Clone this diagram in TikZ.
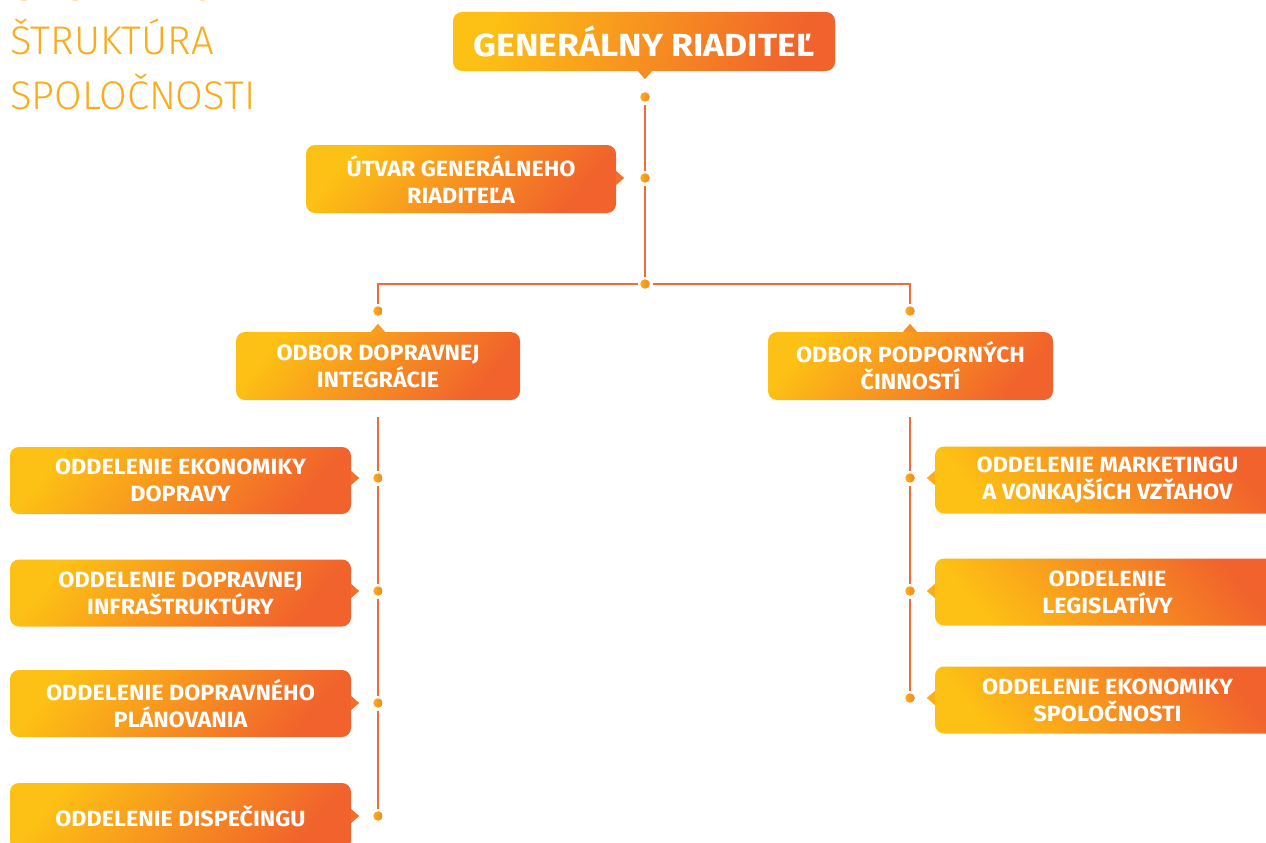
\documentclass[tikz,border=0pt]{standalone}
\usepackage{fontspec}
\setmainfont{Fira Sans}
\newfontfamily\lightfont{Fira Sans Light}
\newfontfamily\boxfont{Fira Sans}[FakeStretch=1.06]
\newfontfamily\bigboxfont{Fira Sans}[FakeStretch=1.11]
\definecolor{yel}{HTML}{FDC014}
\definecolor{ora}{HTML}{F1622C}
\definecolor{linec}{HTML}{F26A35}
\definecolor{titlec}{HTML}{F9AC1C}
\definecolor{dotc}{HTML}{F7941E}
\definecolor{pmid}{HTML}{F68B25}
\definecolor{pright}{HTML}{F2702B}
\definecolor{pleft}{HTML}{FBAE18}
\definecolor{ptopl}{HTML}{F89C22}
\definecolor{ptopr}{HTML}{F59127}
\tikzset{
  boxbase/.style={rounded corners=9pt, text=white, align=center, inner sep=0pt,
    font=\boxfont\bfseries\fontsize{22}{27}\selectfont},
  boxL/.style={boxbase, top color=yel, bottom color=ora, shading angle=50},
  boxR/.style={boxbase, top color=ora, bottom color=yel, shading angle=-50},
  dot/.style={circle, inner sep=0pt, minimum size=9.5pt, left color=yel!60!dotc, right color=dotc!70!ora},
  conn/.style={draw=linec, line width=1.9pt, shorten <=7.5pt, shorten >=7.5pt},
  conntop/.style={draw=linec, line width=1.9pt, shorten >=7.5pt},
  titletext/.style={text=titlec, anchor=base west, inner sep=0pt, font=\lightfont\fontsize{40}{40}\selectfont},
}
\newcommand{\pointer}[3]{\fill[#1] ([shift={(#3+90:7pt)}]#2) -- ([shift={(#3:8pt)}]#2) -- ([shift={(#3-90:7pt)}]#2) -- cycle;}
\begin{document}
\begin{tikzpicture}[x=1pt,y=-1pt]
\useasboundingbox (0,0) rectangle (1266,843);
\clip (0,0) rectangle (1266,843);
% title
\node[titletext] (t1) at (10,1) {ORGANIZAČNÁ};
\node[titletext] (t2) at (10,55) {ŠTRUKTÚRA};
\node[titletext] (t3) at (10,109) {SPOLOČNOSTI};
% boxes
\node[boxL, minimum width=382pt, minimum height=59pt, font=\bigboxfont\bfseries\fontsize{32}{32}\selectfont, top color=yel, bottom color=ora, shading angle=70] (gr) at (644,41.5) {GENERÁLNY RIADITEĽ};
\node[boxL, minimum width=310pt, minimum height=68pt] (ugr) at (461,179) {ÚTVAR GENERÁLNEHO\\RIADITEĽA};
\node[boxL, minimum width=284pt, minimum height=68pt] (odi) at (378,366) {ODBOR DOPRAVNEJ\\INTEGRÁCIE};
\node[boxL, minimum width=285pt, minimum height=68pt] (opc) at (910.5,366) {ODBOR PODPORNÝCH\\ČINNOSTÍ};
\node[boxL, minimum width=341pt, minimum height=67pt] (l1b) at (180.5,480.5) {ODDELENIE EKONOMIKY\\DOPRAVY};
\node[boxL, minimum width=341pt, minimum height=67pt] (l2b) at (180.5,593) {ODDELENIE DOPRAVNEJ\\INFRAŠTRUKTÚRY};
\node[boxL, minimum width=341pt, minimum height=67pt] (l3b) at (180.5,703.5) {ODDELENIE DOPRAVNÉHO\\PLÁNOVANIA};
\node[boxL, minimum width=341pt, minimum height=67pt] (l4b) at (180.5,816.5) {ODDELENIE DISPEČINGU};
\node[boxR, minimum width=345pt, minimum height=67pt] (r1b) at (1107.5,480) {ODDELENIE MARKETINGU\\A VONKAJŠÍCH VZŤAHOV};
\node[boxR, minimum width=345pt, minimum height=67pt] (r2b) at (1107.5,592) {ODDELENIE\\LEGISLATÍVY};
\node[boxR, minimum width=345pt, minimum height=67pt] (r3b) at (1107.5,700) {ODDELENIE EKONOMIKY\\SPOLOČNOSTI};
% dots
\node[dot] (d0) at (645,97) {};
\node[dot] (d1) at (645,178) {};
\node[dot] (d2) at (645,284) {};
\node[dot] (dl) at (378,311) {};
\node[dot] (dr) at (910,311) {};
\node[dot] (l1) at (378,478) {};
\node[dot] (l2) at (378,591) {};
\node[dot] (l3) at (378,703) {};
\node[dot] (l4) at (378,816) {};
\node[dot] (r1) at (910,478) {};
\node[dot] (r2) at (910,591) {};
\node[dot] (r3) at (910,698) {};
\coordinate (lt) at (378,417);
\coordinate (rt) at (910,417);
% pointers
\path (gr.south -| d0) coordinate (pg);
\pointer{pmid}{pg}{-90}
\path (ugr.east |- d1) coordinate (pu);
\pointer{pright}{pu}{0}
\path (odi.north -| dl) coordinate (po);
\pointer{ptopl}{po}{90}
\path (opc.north -| dr) coordinate (pp);
\pointer{ptopr}{pp}{90}
\path (l1b.east |- l1) coordinate (pl1);
\pointer{pright}{pl1}{0}
\path (l2b.east |- l2) coordinate (pl2);
\pointer{pright}{pl2}{0}
\path (l3b.east |- l3) coordinate (pl3);
\pointer{pright}{pl3}{0}
\path (l4b.east |- l4) coordinate (pl4);
\pointer{pright}{pl4}{0}
\path (r1b.west |- r1) coordinate (pr1);
\pointer{pleft}{pr1}{180}
\path (r2b.west |- r2) coordinate (pr2);
\pointer{pleft}{pr2}{180}
\path (r3b.west |- r3) coordinate (pr3);
\pointer{pleft}{pr3}{180}
% connectors
\draw[conn] (d0.center) -- (d1.center);
\draw[conn] (d1.center) -- (d2.center);
\draw[conn] (d2.center) -| (dl.center);
\draw[conn] (d2.center) -| (dr.center);
\draw[conntop] (lt) -- (l1.center);
\draw[conn] (l1.center) -- (l2.center);
\draw[conn] (l2.center) -- (l3.center);
\draw[conn] (l3.center) -- (l4.center);
\draw[conntop] (rt) -- (r1.center);
\draw[conn] (r1.center) -- (r2.center);
\draw[conn] (r2.center) -- (r3.center);
\end{tikzpicture}
\end{document}
